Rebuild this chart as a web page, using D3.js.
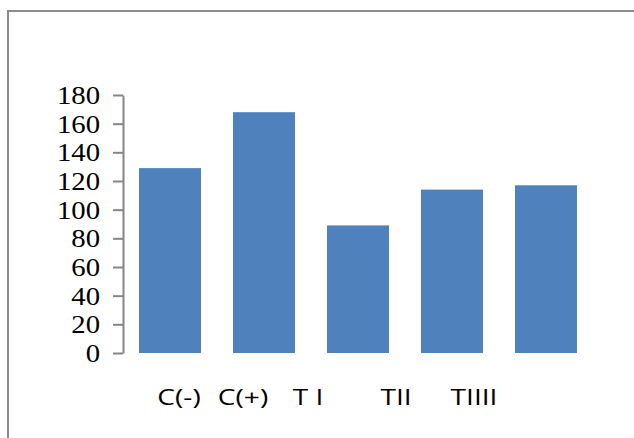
<!DOCTYPE html>
<html>
<head>
<meta charset="utf-8">
<script src="https://cdn.jsdelivr.net/npm/d3@7"></script>
<style>
  html, body { margin: 0; padding: 0; background: #fff; }
  svg { display: block; }
  .y-axis text { font-family: "Liberation Serif", "Times New Roman", "DejaVu Serif", serif; font-size: 25px; fill: #000; }
  .cat-label { font-family: "Open Sans", Lato, sans-serif; font-size: 22px; fill: #000; }
</style>
</head>
<body>
<svg id="chart" width="634" height="438"></svg>
<script>
// Categories and measured values
const categories = ["C(-)", "C(+)", "T I", "TII", "TIIII"];
const values = [129, 168, 89, 114, 117];
const yTicks = [0, 20, 40, 60, 80, 100, 120, 140, 160, 180];

const svg = d3.select("#chart");

// Frame around the chart (open on the right and bottom edges of the window)
svg.append("path")
  .attr("d", "M8,438 V11 H634")
  .attr("fill", "none")
  .attr("stroke", "#8c8c8c")
  .attr("stroke-width", 2);

const plot = { left: 123, right: 593, top: 95, bottom: 353 };

const x = d3.scaleBand()
  .domain(categories)
  .range([plot.left, plot.right])
  .paddingInner(0.34)
  .paddingOuter(0.17);

const y = d3.scaleLinear()
  .domain([0, 180])
  .range([plot.bottom, plot.top]);

// Bars
svg.append("g")
  .selectAll("rect")
  .data(values)
  .join("rect")
  .attr("x", (d, i) => x(categories[i]))
  .attr("y", d => y(d))
  .attr("width", x.bandwidth())
  .attr("height", d => y(0) - y(d))
  .attr("fill", "#4f81bd");

// Value axis
const yAxis = svg.append("g")
  .attr("class", "y-axis")
  .attr("transform", `translate(${plot.left},0)`)
  .call(d3.axisLeft(y).tickValues(yTicks).tickSize(10).tickPadding(10).tickSizeOuter(0));
yAxis.attr("font-family", null).attr("font-size", null);
yAxis.select(".domain").attr("stroke", "#868686").attr("stroke-width", 2);
yAxis.selectAll(".tick line").attr("stroke", "#868686").attr("stroke-width", 2);
yAxis.selectAll(".tick text").attr("dy", "0.34em").attr("transform", "scale(1.15,1)");

// Category labels, set in a row beneath the plot
const labelCenters = [179, 243, 308, 396, 474];
svg.append("g")
  .selectAll("text")
  .data(categories)
  .join("text")
  .attr("class", "cat-label")
  .attr("transform", (d, i) => `translate(${labelCenters[i]},405) scale(1.28,1)`)
  .attr("text-anchor", "middle")
  .text(d => d);
</script>
</body>
</html>
